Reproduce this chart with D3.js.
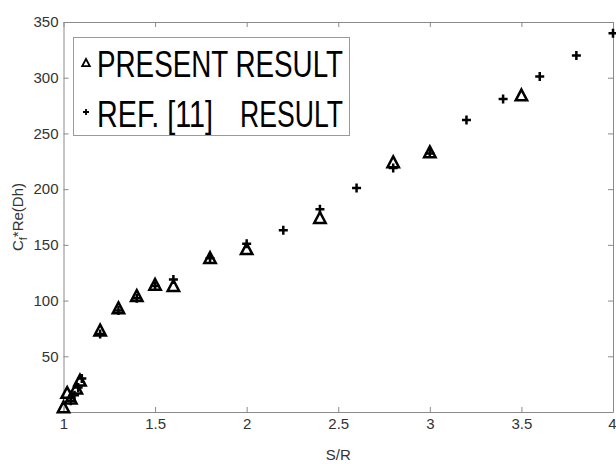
<!DOCTYPE html>
<html>
<head>
<meta charset="utf-8">
<script src="https://cdn.jsdelivr.net/npm/d3@7"></script>
<style>
body { margin: 0; background: #fff; }
svg { display: block; }
</style>
</head>
<body>
<svg id="chart" width="616" height="464"></svg>
<script>
// present result (triangles)
const presentX = [1.0, 1.02, 1.04, 1.07, 1.09, 1.2, 1.3, 1.4, 1.5, 1.6, 1.8, 2.0, 2.4, 2.8, 3.0, 3.5];
const presentY = [4, 17, 12, 21, 28, 73, 93, 104, 114, 113, 138, 146, 174, 224, 233, 284];
// ref [11] result (plus signs)
const refX = [1.04, 1.06, 1.08, 1.1, 1.2, 1.3, 1.4, 1.5, 1.6, 1.8, 2.0, 2.2, 2.4, 2.6, 2.8, 3.0, 3.2, 3.4, 3.6, 3.8, 4.0];
const refY = [10, 15, 22, 30, 70, 91, 102, 113, 119, 138, 151, 163, 182, 201, 219, 232, 262, 281, 301, 320, 340];
const xTicks = [1, 1.5, 2, 2.5, 3, 3.5, 4];
const yTicks = [50, 100, 150, 200, 250, 300, 350];

const svg = d3.select("#chart");
const plotLeft = 63.5, plotRight = 613, plotTop = 22, plotBottom = 412;
const axisColor = "#8a8a8a", labelColor = "#333";
const font = "'Liberation Sans', Arial, sans-serif";

const x = d3.scaleLinear().domain([1, 4]).range([plotLeft, plotRight]);
const y = d3.scaleLinear().domain([0, 350]).range([plotBottom, plotTop]);

function styleAxis(g) {
    g.select(".domain").attr("stroke", axisColor);
    g.selectAll(".tick line").attr("stroke", axisColor);
    g.selectAll(".tick text").attr("fill", labelColor).attr("font-family", font).attr("font-size", 15);
}

// bottom axis
const xAxisG = svg.append("g")
    .attr("transform", "translate(0," + plotBottom + ")")
    .call(d3.axisBottom(x).tickValues(xTicks).tickFormat(d => d).tickSizeInner(-5).tickSizeOuter(0).tickPadding(6))
    .call(styleAxis);
// last label sits on the window edge, keep it inside
xAxisG.selectAll(".tick text").filter(d => d === 4).attr("text-anchor", "end").attr("x", 3);

// top axis (ticks only)
svg.append("g")
    .attr("transform", "translate(0," + plotTop + ")")
    .call(d3.axisTop(x).tickValues(xTicks).tickFormat("").tickSizeInner(-5).tickSizeOuter(0))
    .call(styleAxis);

// left axis
svg.append("g")
    .attr("transform", "translate(" + plotLeft + ",0)")
    .call(d3.axisLeft(y).tickValues(yTicks).tickFormat(d => d).tickSizeInner(-5).tickSizeOuter(0).tickPadding(5))
    .call(styleAxis);

// right axis (ticks only)
svg.append("g")
    .attr("transform", "translate(" + plotRight + ",0)")
    .call(d3.axisRight(y).tickValues(yTicks).tickFormat("").tickSizeInner(-5).tickSizeOuter(0))
    .call(styleAxis);

// axis labels
svg.append("text")
    .attr("x", x(2.5))
    .attr("y", 460)
    .attr("text-anchor", "middle")
    .attr("fill", labelColor)
    .attr("font-family", font)
    .attr("font-size", 15)
    .text("S/R");

const yl = svg.append("text")
    .attr("transform", "translate(23,217) rotate(-90)")
    .attr("text-anchor", "middle")
    .attr("fill", labelColor)
    .attr("font-family", font)
    .attr("font-size", 15);
yl.append("tspan").text("C");
yl.append("tspan").attr("font-size", 11).attr("dy", 4).text("f");
yl.append("tspan").attr("dy", -4).text("*Re(Dh)");

// marker shapes
function triPath(s) {
    return "M0," + (-s) + "L" + (s * 0.95) + "," + (s * 0.8) + "L" + (-s * 0.95) + "," + (s * 0.8) + "Z";
}
function plusPath(s) {
    return "M" + (-s) + ",0H" + s + "M0," + (-s) + "V" + s;
}

const present = presentX.map((v, i) => [v, presentY[i]]);
const ref = refX.map((v, i) => [v, refY[i]]);

svg.append("g").selectAll("path")
    .data(present)
    .enter().append("path")
    .attr("transform", d => "translate(" + x(d[0]) + "," + y(d[1]) + ")")
    .attr("d", triPath(6))
    .attr("fill", "none")
    .attr("stroke", "#000")
    .attr("stroke-width", 2.5)
    .attr("stroke-linejoin", "miter");

svg.append("g").selectAll("path")
    .data(ref)
    .enter().append("path")
    .attr("transform", d => "translate(" + x(d[0]) + "," + y(d[1]) + ")")
    .attr("d", plusPath(4.5))
    .attr("fill", "none")
    .attr("stroke", "#000")
    .attr("stroke-width", 2.5);

// legend
const lg = svg.append("g");
lg.append("rect")
    .attr("x", 73.5).attr("y", 37.5)
    .attr("width", 276).attr("height", 98)
    .attr("fill", "#fff")
    .attr("stroke", "#9a9a9a")
    .attr("stroke-width", 1);
lg.append("path")
    .attr("transform", "translate(86,63)")
    .attr("d", triPath(4))
    .attr("fill", "none").attr("stroke", "#000").attr("stroke-width", 1.8);
lg.append("path")
    .attr("transform", "translate(86,112)")
    .attr("d", plusPath(3))
    .attr("fill", "none").attr("stroke", "#000").attr("stroke-width", 1.8);

function legendText(tx, ty, len, s) {
    lg.append("text")
        .attr("x", tx).attr("y", ty)
        .attr("font-family", font)
        .attr("font-size", 37)
        .attr("fill", "#000")
        .attr("textLength", len)
        .attr("lengthAdjust", "spacingAndGlyphs")
        .text(s);
}
legendText(97, 77, 246, "PRESENT RESULT");
legendText(97, 127, 116, "REF. [11]");
legendText(240, 127, 103, "RESULT");
</script>
</body>
</html>
